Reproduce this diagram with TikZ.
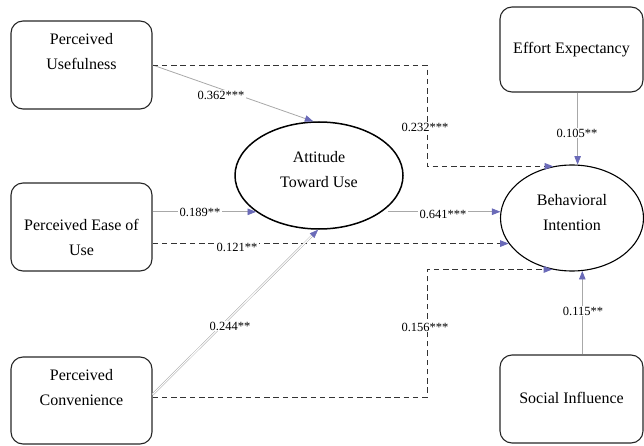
\documentclass[tikz,border=0pt]{standalone}
\usepackage{fontspec}
\setmainfont{Liberation Serif}
\usetikzlibrary{arrows.meta,shapes.geometric}
\definecolor{arrblue}{HTML}{6A6AB8}
\definecolor{solidgray}{HTML}{A8A8A8}
\definecolor{dashgray}{HTML}{333333}
\begin{document}
\begin{tikzpicture}[x=1pt,y=-1pt,
  box/.style={draw=black!85, line width=1.1pt, rounded corners=12pt, inner sep=0pt, minimum width=141pt},
  oval/.style={draw=black, ellipse, inner sep=0pt},
  boxtext/.style={align=center, font=\fontsize{16}{25}\selectfont, inner sep=0pt},
  coef/.style={fill=white, inner sep=1.2pt, font=\fontsize{12.5}{15}\selectfont},
  tip/.style={-{Triangle[length=8.5pt,width=6.5pt,color=arrblue,fill=arrblue]}},
  solidc/.style={tip, draw=solidgray, line width=0.8pt},
  dashc/.style={tip, draw=dashgray, line width=0.9pt, dash pattern=on 5.5pt off 3.8pt},
  dblc/.style={tip, draw=solidgray, line width=0.5pt, double=white, double distance=1.1pt}
]
\useasboundingbox (0,0) rectangle (644,446);

% boxes
\node[box, minimum height=88pt] (pu) at (81.5,65) {};
\node[box, minimum height=88pt] (peou) at (81.5,227) {};
\node[box, minimum height=87pt] (pc) at (81.5,400.5) {};
\node[box, minimum width=143pt, minimum height=85pt] (ee) at (571.5,49.5) {};
\node[box, minimum width=143pt, minimum height=88pt] (si) at (571.5,399) {};

% ellipses
\node[oval, line width=1.5pt, minimum width=168pt, minimum height=107pt] (atu) at (319,175.5) {};
\node[oval, line width=1.1pt, minimum width=143pt, minimum height=106pt] (bi) at (572,218) {};

% texts
\node[boxtext] (put) at (81.5,51.5) {Perceived\\Usefulness};
\node[boxtext] (peout) at (81.5,237) {Perceived Ease of\\Use};
\node[boxtext] (pct) at (81.5,387.5) {Perceived\\Convenience};
\node[boxtext] (eet) at (571.5,50) {Effort Expectancy};
\node[boxtext] (sit) at (571.5,398) {Social Influence};
\node[boxtext] (atut) at (319,170) {Attitude\\Toward Use};
\node[boxtext] (bit) at (572,212.5) {Behavioral\\Intention};

% helper coordinates
\coordinate (k1) at (427,65);
\coordinate (k2) at (427,397);
\path (atu.east |- bi.175.2) ++(-16,0) coordinate (atuout);

% connectors
\draw[solidc] (pu.east) -- (atu.96.5);
\draw[dashc] (pu.east) -| (k1 |- bi.110.4) -- (bi.110.4);
\draw[solidc] (ee.south -| bi.84.6) -- (bi.84.6);
\draw[solidc] (peou.east |- atu.210.7) -- (atu.210.7);
\draw[dashc] (peou.east |- bi.202.5) -- (bi.202.5);
\draw[solidc] (atuout) -- (bi.175.2);
\draw[dblc] ([yshift=6pt]pc.east) -- (atu.269);
\draw[dashc] ([yshift=3pt]pc.east) -| (k2 |- bi.249.6) -- (bi.249.6);
\draw[solidc] (si.north -| bi.281.9) -- (bi.281.9);

% coefficient labels
\node[coef] (l1) at (221,95) {0.362***};
\node[coef] (l2) at (425,127) {0.232***};
\node[coef] (l3) at (577,133) {0.105**};
\node[coef] (l4) at (200,212) {0.189**};
\node[coef] (l5) at (237,247) {0.121**};
\node[coef] (l6) at (443,214) {0.641***};
\node[coef] (l7) at (230,326) {0.244**};
\node[coef] (l8) at (425,327) {0.156***};
\node[coef] (l9) at (583,311) {0.115**};
\end{tikzpicture}
\end{document}
